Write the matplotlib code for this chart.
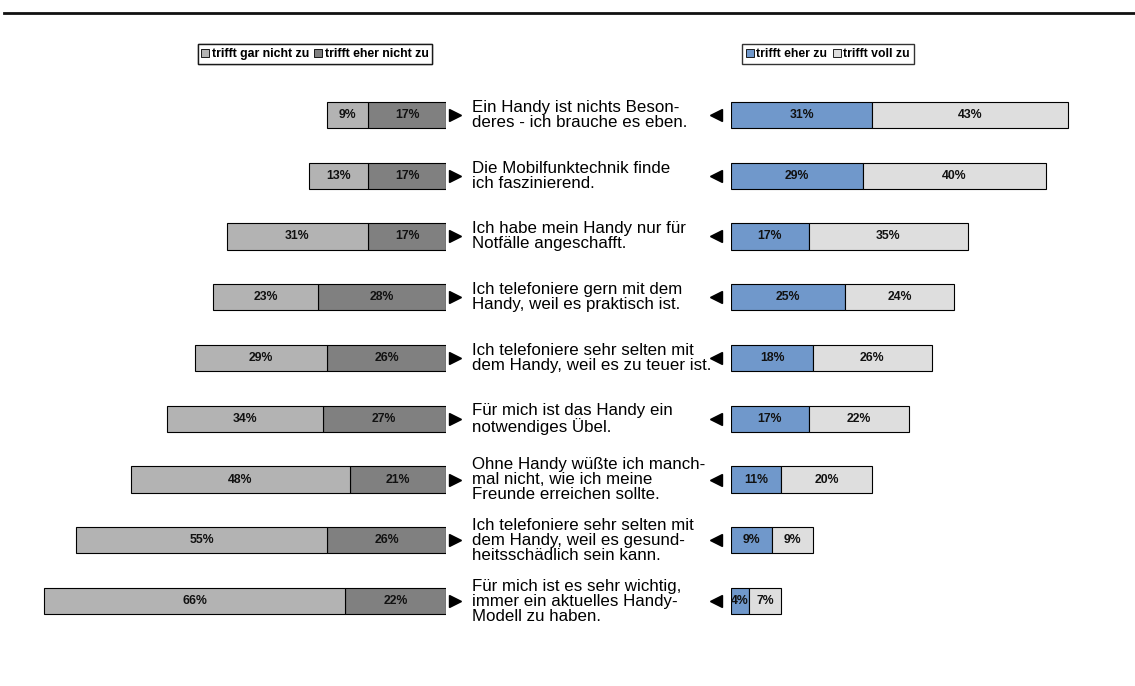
import numpy as np
import matplotlib.pyplot as plt
from matplotlib.lines import Line2D
from matplotlib.patches import Patch

plt.rcParams['font.family'] = ['Liberation Sans', 'DejaVu Sans']

statements = [
    "Ein Handy ist nichts Beson-\nderes - ich brauche es eben.",
    "Die Mobilfunktechnik finde\nich faszinierend.",
    "Ich habe mein Handy nur für\nNotfälle angeschafft.",
    "Ich telefoniere gern mit dem\nHandy, weil es praktisch ist.",
    "Ich telefoniere sehr selten mit\ndem Handy, weil es zu teuer ist.",
    "Für mich ist das Handy ein\nnotwendiges Übel.",
    "Ohne Handy wüßte ich manch-\nmal nicht, wie ich meine\nFreunde erreichen sollte.",
    "Ich telefoniere sehr selten mit\ndem Handy, weil es gesund-\nheitsschädlich sein kann.",
    "Für mich ist es sehr wichtig,\nimmer ein aktuelles Handy-\nModell zu haben.",
]
gar_nicht = [9, 13, 31, 23, 29, 34, 48, 55, 66]
eher_nicht = [17, 17, 17, 28, 26, 27, 21, 26, 22]
eher_zu = [31, 29, 17, 25, 18, 17, 11, 9, 4]
voll_zu = [43, 40, 35, 24, 26, 22, 20, 9, 7]

labels = ["trifft gar nicht zu", "trifft eher nicht zu", "trifft eher zu", "trifft voll zu"]
colors = ["#b3b3b3", "#808080", "#7098cb", "#dedede"]

W, H = 1135, 686
fig = plt.figure(figsize=(W / 100, H / 100), dpi=100)

ytop, ybot = 84.6, 631.4
bottom = 1 - ybot / H
height = (ybot - ytop) / H
pxper = 4.57

# left part
axl = fig.add_axes([20 / W, bottom, 426 / W, height])
# middle text
axm = fig.add_axes([446 / W, bottom, 285 / W, height])
# right part
axr = fig.add_axes([731 / W, bottom, 394 / W, height])

y = np.arange(len(statements))
bh = 0.43

b1 = axl.barh(y, eher_nicht, height=bh, color=colors[1], edgecolor='black', linewidth=0.8)
b0 = axl.barh(y, gar_nicht, left=eher_nicht, height=bh, color=colors[0], edgecolor='black', linewidth=0.8)
axl.set_xlim(426 / pxper, 0)

b2 = axr.barh(y, eher_zu, height=bh, color=colors[2], edgecolor='black', linewidth=0.8)
b3 = axr.barh(y, voll_zu, left=eher_zu, height=bh, color=colors[3], edgecolor='black', linewidth=0.8)
axr.set_xlim(0, 394 / 4.56)

pct = dict(ha='center', va='center', fontsize=8.8, fontweight='bold', color='#111111')
for i in range(len(y)):
    axl.text(eher_nicht[i] / 2, i, f"{eher_nicht[i]}%", **pct)
    axl.text(eher_nicht[i] + gar_nicht[i] / 2, i, f"{gar_nicht[i]}%", **pct)
    axr.text(eher_zu[i] / 2, i, f"{eher_zu[i]}%", **pct)
    axr.text(eher_zu[i] + voll_zu[i] / 2, i, f"{voll_zu[i]}%", **pct)

axm.set_xlim(0, 285)
axm.plot([9] * len(y), y, linestyle='none', marker='>', color='black', markersize=8)
axm.plot([270] * len(y), y, linestyle='none', marker='<', color='black', markersize=8)
for i, s in enumerate(statements):
    axm.text(26, i, s, ha='left', va='center', fontsize=12.2, linespacing=1.0)

for ax in (axl, axm, axr):
    ax.set_ylim(len(y) - 0.5, -0.5)
    ax.axis('off')

leg_kw = dict(loc='center', ncol=2, frameon=True, fancybox=False, edgecolor='black',
              handlelength=0.65, handleheight=0.65, handletextpad=0.2, columnspacing=0.45,
              borderpad=0.3, prop={'weight': 'bold', 'size': 8.8})
l1 = fig.legend([Patch(facecolor=colors[0], edgecolor='black', linewidth=0.6),
                 Patch(facecolor=colors[1], edgecolor='black', linewidth=0.6)],
                labels[:2], bbox_to_anchor=(315 / W, 1 - 54 / H), **leg_kw)
l1.get_frame().set_linewidth(1.0)
fig.add_artist(l1)
l2 = fig.legend([Patch(facecolor=colors[2], edgecolor='black', linewidth=0.6),
                 Patch(facecolor=colors[3], edgecolor='black', linewidth=0.6)],
                labels[2:], bbox_to_anchor=(828 / W, 1 - 54 / H), **leg_kw)
l2.get_frame().set_linewidth(1.0)

fig.add_artist(Line2D([4 / W, 1], [1 - 13 / H, 1 - 13 / H], color='#111111', linewidth=2))

plt.savefig('out.png', dpi=100)
